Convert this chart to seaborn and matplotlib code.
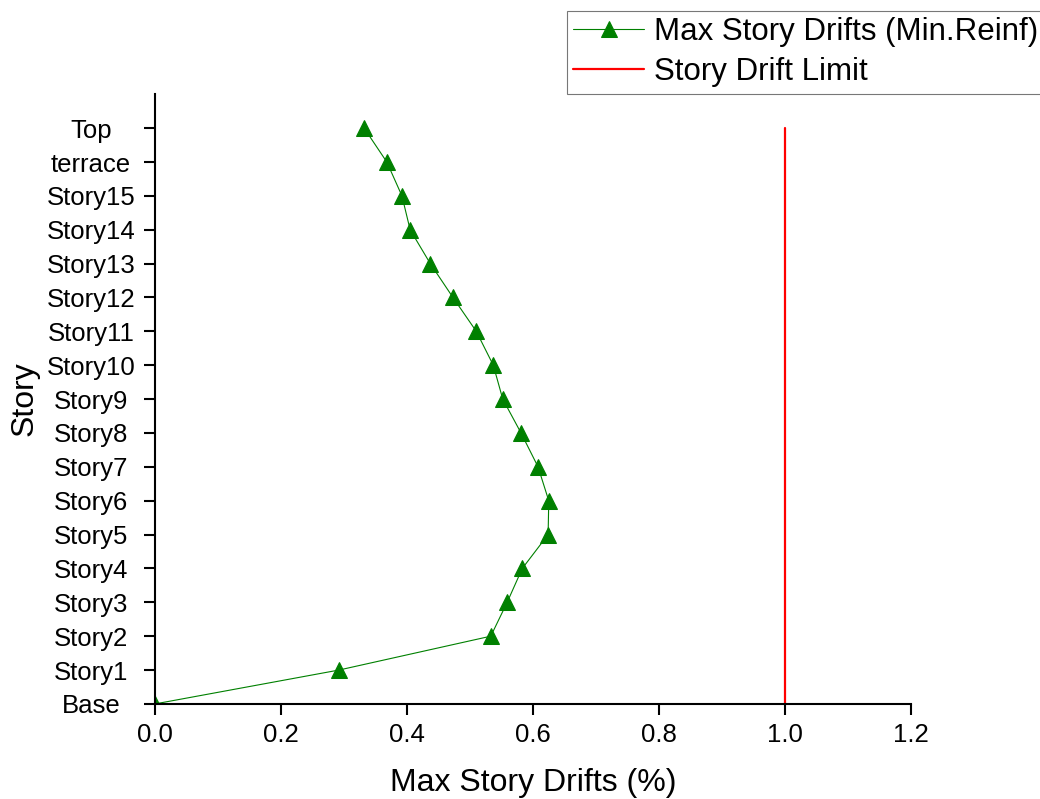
import matplotlib
matplotlib.use("Agg")
import matplotlib.pyplot as plt
import seaborn as sns
import pandas as pd

# Story levels from ground up and peak drift (%) at each level
stories = ["Base", "Story1", "Story2", "Story3", "Story4", "Story5", "Story6",
           "Story7", "Story8", "Story9", "Story10", "Story11", "Story12",
           "Story13", "Story14", "Story15", "terrace", "Top"]
drifts = [0.0, 0.292, 0.533, 0.559, 0.583, 0.624, 0.625, 0.608, 0.581,
          0.552, 0.537, 0.510, 0.473, 0.437, 0.405, 0.392, 0.368, 0.332]
drift_limit = 1.0

x_ticks = [0.0, 0.2, 0.4, 0.6, 0.8, 1.0, 1.2]

sns.set_theme(style="ticks")
plt.rcParams["font.family"] = ["Liberation Sans", "DejaVu Sans"]
plt.rcParams["text.color"] = "black"
plt.rcParams["axes.labelcolor"] = "black"

df = pd.DataFrame({"story": stories, "drift": drifts,
                   "level": range(len(stories))})

fig = plt.figure(figsize=(10.4, 7.99), dpi=100)
ax = fig.add_axes([0.149, 0.119, 0.727, 0.763])

sns.lineplot(data=df, x="drift", y="level", sort=False, estimator=None,
             color="#008000", linewidth=0.8, marker="^", markersize=11,
             markeredgecolor="#008000", ax=ax,
             label="Max Story Drifts (Min.Reinf)")
limit_df = pd.DataFrame({"drift": [drift_limit, drift_limit],
                         "level": [0, len(stories) - 1]})
sns.lineplot(data=limit_df, x="drift", y="level", sort=False, estimator=None,
             color="#ff0000", linewidth=1.6, ax=ax, label="Story Drift Limit")

ax.set_xlim(0, 1.2)
ax.set_ylim(0, 18)
ax.set_xticks(x_ticks)
ax.set_xticklabels([f"{v:.1f}" for v in x_ticks])
ax.set_yticks(range(len(stories)))
ax.set_yticklabels(stories)
ax.tick_params(axis="both", direction="out", length=8, width=1.5,
               labelsize=18.5, color="black", labelcolor="black")
ax.tick_params(axis="x", pad=6)
# centred story names in a column left of the axis
ax.tick_params(axis="y", pad=38)
for lbl in ax.get_yticklabels():
    lbl.set_horizontalalignment("center")
for side in ["top", "right"]:
    ax.spines[side].set_visible(False)
for side in ["left", "bottom"]:
    ax.spines[side].set_linewidth(1.5)
    ax.spines[side].set_color("black")

ax.set_xlabel("Max Story Drifts (%)", fontsize=23, labelpad=15)
ax.set_ylabel("Story", fontsize=23, labelpad=5)

leg = ax.legend(loc="upper left", bbox_to_anchor=(567 / 1040, 1 - 11 / 799),
                bbox_transform=fig.transFigure, fontsize=22.5, frameon=True,
                fancybox=False, edgecolor="#555555", borderaxespad=0,
                handlelength=2.27, handletextpad=0.32, borderpad=0.2,
                labelspacing=0.32)
leg.get_frame().set_linewidth(0.8)
for handle in leg.legend_handles:
    handle.set_linewidth(handle.get_linewidth())

fig.savefig("out.png", dpi=100)
